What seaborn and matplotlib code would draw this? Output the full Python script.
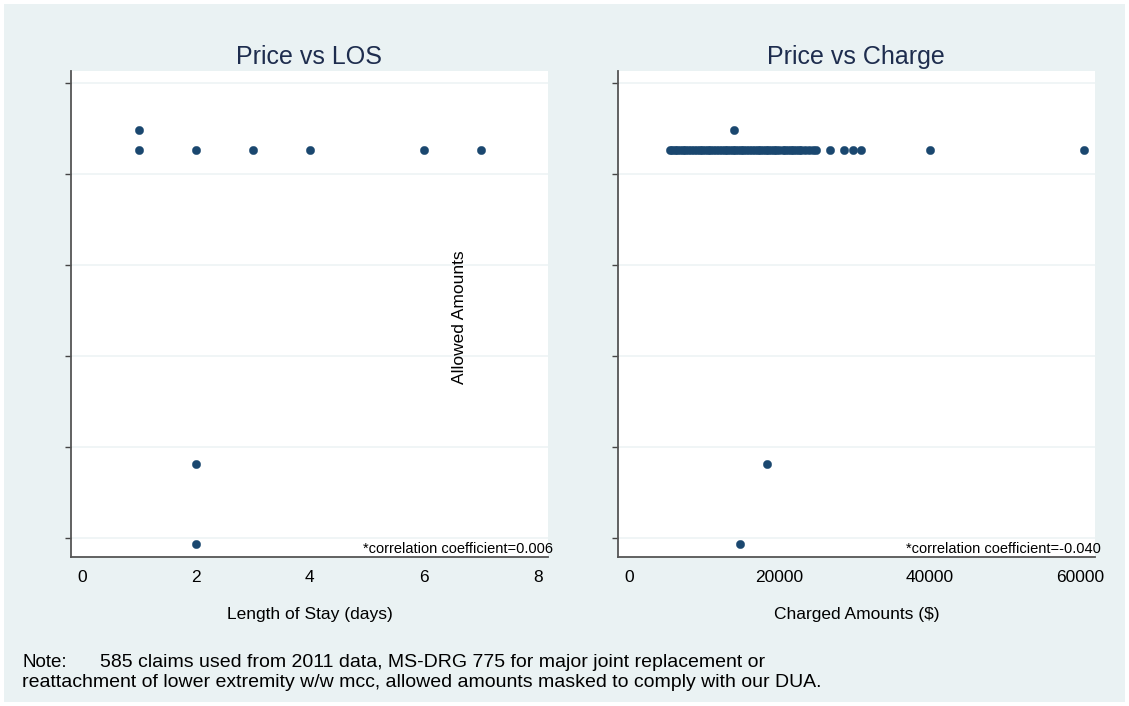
import matplotlib
matplotlib.use("Agg")
import matplotlib.pyplot as plt
import seaborn as sns
import pandas as pd

# ---- data (allowed amounts masked: arbitrary units, tick positions 0..5) ----
los_x = [1, 1, 2, 3, 4, 6, 7, 2, 2]
los_y = [4.264, 4.484, 4.264, 4.264, 4.264, 4.264, 4.264, 0.813, -0.066]

charge_row = [5400, 5700, 6100, 6400, 6800, 7200, 7500, 7900, 8300, 8600,
              9000, 9400, 9700, 10100, 10500, 10800, 11200, 11600, 11900, 12300,
              12700, 13000, 13400, 13800, 14100, 14500, 14900, 15200, 15600, 16000,
              16300, 16700, 17100, 17400, 17800, 18200, 18500, 18900, 19300, 19600,
              20000, 20400, 20700, 21100, 21500, 21800, 22200, 22600, 22900, 23400,
              23900, 24450, 24850, 26700, 28570, 29770, 30830, 40000, 60470]
charge_other_x = [14000, 18340, 14750]
charge_other_y = [4.484, 0.813, -0.066]

los_ticks = [0, 2, 4, 6, 8]
charge_ticks = [0, 20000, 40000, 60000]
y_ticks = [0, 1, 2, 3, 4, 5]

titles = ["Price vs LOS", "Price vs Charge"]
xlabels = ["Length of Stay (days)", "Charged Amounts ($)"]
ylabel = "Allowed Amounts"
corr = ["*correlation coefficient=0.006", "*correlation coefficient=-0.040"]
note_head = "Note:"
note_l1 = "585 claims used from 2011 data, MS-DRG 775 for major joint replacement or"
note_l2 = "reattachment of lower extremity w/w mcc, allowed amounts masked to comply with our DUA."

df_los = pd.DataFrame({"x": los_x, "y": los_y})
df_ch = pd.DataFrame({"x": charge_row + charge_other_x,
                      "y": [4.264] * len(charge_row) + charge_other_y})

sns.set_theme(style="white")
plt.rcParams["font.family"] = ["Liberation Sans", "DejaVu Sans"]
plt.rcParams["text.color"] = "black"

W, H = 1129, 706
fig = plt.figure(figsize=(W / 100, H / 100), dpi=100)
fig.patch.set_facecolor("white")
bg = plt.Rectangle((4 / W, 4 / H), (W - 8) / W, (H - 8) / H, transform=fig.transFigure,
                   facecolor="#EAF2F3", edgecolor="none", zorder=-10)
fig.patches.append(bg)

def fx(px):
    return px / W

def fy(py):
    return 1 - py / H

ax_top, ax_bot = 71, 557
axes_px = [(71, 548), (617.7, 1095)]
xlims = [(-0.193, 8.18), (-1502, 61930)]
marker_color = "#1a476f"
title_color = "#1e2d4e"

for i, (dfx, (l, r)) in enumerate(zip([df_los, df_ch], axes_px)):
    ax = fig.add_axes([fx(l), fy(ax_bot), (r - l) / W, (ax_bot - ax_top) / H])
    ax.set_zorder(2)
    ax.set_facecolor("white")
    sns.scatterplot(data=dfx, x="x", y="y", ax=ax, color=marker_color, s=36,
                    edgecolor=marker_color, linewidth=0.3, zorder=3)
    ax.set_xlim(*xlims[i])
    ax.set_ylim(-0.209, 5.132)
    ax.set_xticks(los_ticks if i == 0 else charge_ticks)
    ax.set_xticklabels([str(t) for t in (los_ticks if i == 0 else charge_ticks)])
    ax.set_yticks(y_ticks)
    ax.set_yticklabels([])
    ax.set_xlabel("")
    ax.set_ylabel("")
    ax.grid(axis="y", color="#EEF4F5", linewidth=1.2, zorder=1)
    ax.grid(axis="x", visible=False)
    for s in ["top", "right"]:
        ax.spines[s].set_visible(False)
    for s in ["left", "bottom"]:
        ax.spines[s].set_color("#555555")
        ax.spines[s].set_linewidth(1.3)
    ax.tick_params(axis="both", direction="out", length=4.5, width=1, color="#444444")
    ax.tick_params(axis="x", labelsize=12.5, pad=5, labelcolor="black")
    ax.tick_params(axis="y", left=True)
    ax.text(1.0105 if i == 0 else 1.0126, 0.008, corr[i], transform=ax.transAxes,
            ha="right", va="baseline", fontsize=10.5, color="black")
    cx = (l + r) / 2
    fig.text(fx(cx), fy(64), titles[i], ha="center", va="baseline", fontsize=18,
             color=title_color)
    fig.text(fx(cx), fy(615), xlabels[i], ha="center", va="center", fontsize=12.5,
             color="black")

fig.text(fx(460), fy(317), ylabel, rotation=90, ha="center", va="center",
         fontsize=12.5, color="black")

fig.text(fx(22), fy(667), note_head, ha="left", va="baseline", fontsize=13.5, color="black")
fig.text(fx(100), fy(667), note_l1, ha="left", va="baseline", fontsize=14, color="black")
fig.text(fx(22), fy(687), note_l2, ha="left", va="baseline", fontsize=14, color="black")

fig.savefig("out.png", dpi=100)
